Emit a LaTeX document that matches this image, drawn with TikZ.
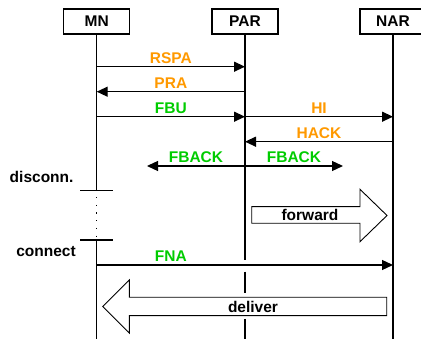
\documentclass[tikz,border=0pt]{standalone}
\usepackage{fontspec}
\setmainfont{Liberation Sans}
\usetikzlibrary{arrows.meta}
\definecolor{msgorange}{RGB}{255,153,0}
\definecolor{msggreen}{RGB}{0,204,0}

\begin{document}
\begin{tikzpicture}[x=1pt,y=-1pt,
    font=\fontsize{15.5}{18}\selectfont\bfseries,
    entity/.style={draw,line width=1.3pt,minimum width=66pt,minimum height=25pt,inner sep=0pt},
    life/.style={line width=1.3pt},
    msg/.style={line width=1.3pt,-{Triangle[length=11pt,width=10pt]}},
    orangelbl/.style={text=msgorange,above,inner sep=2.5pt},
    greenlbl/.style={text=msggreen,above,inner sep=2.5pt},
    blockarrow/.style={draw,fill=white,line width=0.9pt},
    tick/.style={line width=1.3pt}]
\useasboundingbox (0,0) rectangle (421,339);
\clip (0,0) rectangle (421,339);

% entities
\node[entity] (mn)  at (96.7,21.5) {MN};
\node[entity] (par) at (245,21.5)  {PAR};
\node[entity] (nar) at (393,21.5)  {NAR};

\coordinate (mnoff)  at (96.7,190.7);
\coordinate (mnon)   at (96.7,240);
\coordinate (mnend)  at (96.7,339);
\coordinate (parend) at (245,339);
\coordinate (narend) at (393,339);
\coordinate (fbl) at (147,166);
\coordinate (fbr) at (343,166);

% life lines
\draw[life] (mn) -- (mnoff);
\draw[line width=1pt,dash pattern=on 1.1pt off 6.6pt,dash phase=-6.4pt] (mnoff) -- (mnon);
\draw[life] (mnon) -- (mnend);
\draw[life] (par) -- (par |- 0,260);
\draw[life] (par |- 0,271.7) -- (par |- 0,293.3);
\draw[life] (par |- 0,319) -- (parend);
\draw[life] (nar) -- (narend);

% messages
\draw[msg] (mn |- 0,66.7) -- node[orangelbl] {RSPA} (par |- 0,66.7);
\draw[msg] (par |- 0,91.7) -- node[orangelbl] {PRA} (mn |- 0,91.7);
\draw[msg] (mn |- 0,116.7) -- node[greenlbl] {FBU} (par |- 0,116.7);
\draw[msg] (par |- 0,116.7) -- node[orangelbl] {HI} (nar |- 0,116.7);
\draw[msg] (nar |- 0,141.7) -- node[orangelbl] {HACK} (par |- 0,141.7);
\draw[msg] (par |- fbl) -- node[greenlbl] {FBACK} (fbl);
\draw[msg] (par |- fbr) -- node[greenlbl] {FBACK} (fbr);

% disconnect / connect
\draw[tick] ([xshift=-16.7pt]mnoff) -- ([xshift=16pt]mnoff);
\node[anchor=base east] (disc) at (77,182.3) {disconn.};
\draw[tick] ([xshift=-16.7pt]mnon) -- ([xshift=16pt]mnon);
\node[anchor=base east] (conn) at (79.3,256.7) {connect};

\draw[blockarrow] (251.7,206.7) -- (360,206.7) -- (360,189.3) -- (387,215.5)
   -- (360,241.7) -- (360,223.3) -- (251.7,223.3) -- cycle;
\node (fwd) at (310,215) {forward};

\draw[msg] (mn |- 0,265) -- node[greenlbl,pos=0.25] {FNA} (nar |- 0,265);

\draw[blockarrow] (386.7,297.3) -- (129.3,297.3) -- (129.3,280) -- (102.7,306.5)
   -- (129.3,333) -- (129.3,315.7) -- (386.7,315.7) -- cycle;
\node (dlv) at (253,306.5) {deliver};
\end{tikzpicture}
\end{document}
